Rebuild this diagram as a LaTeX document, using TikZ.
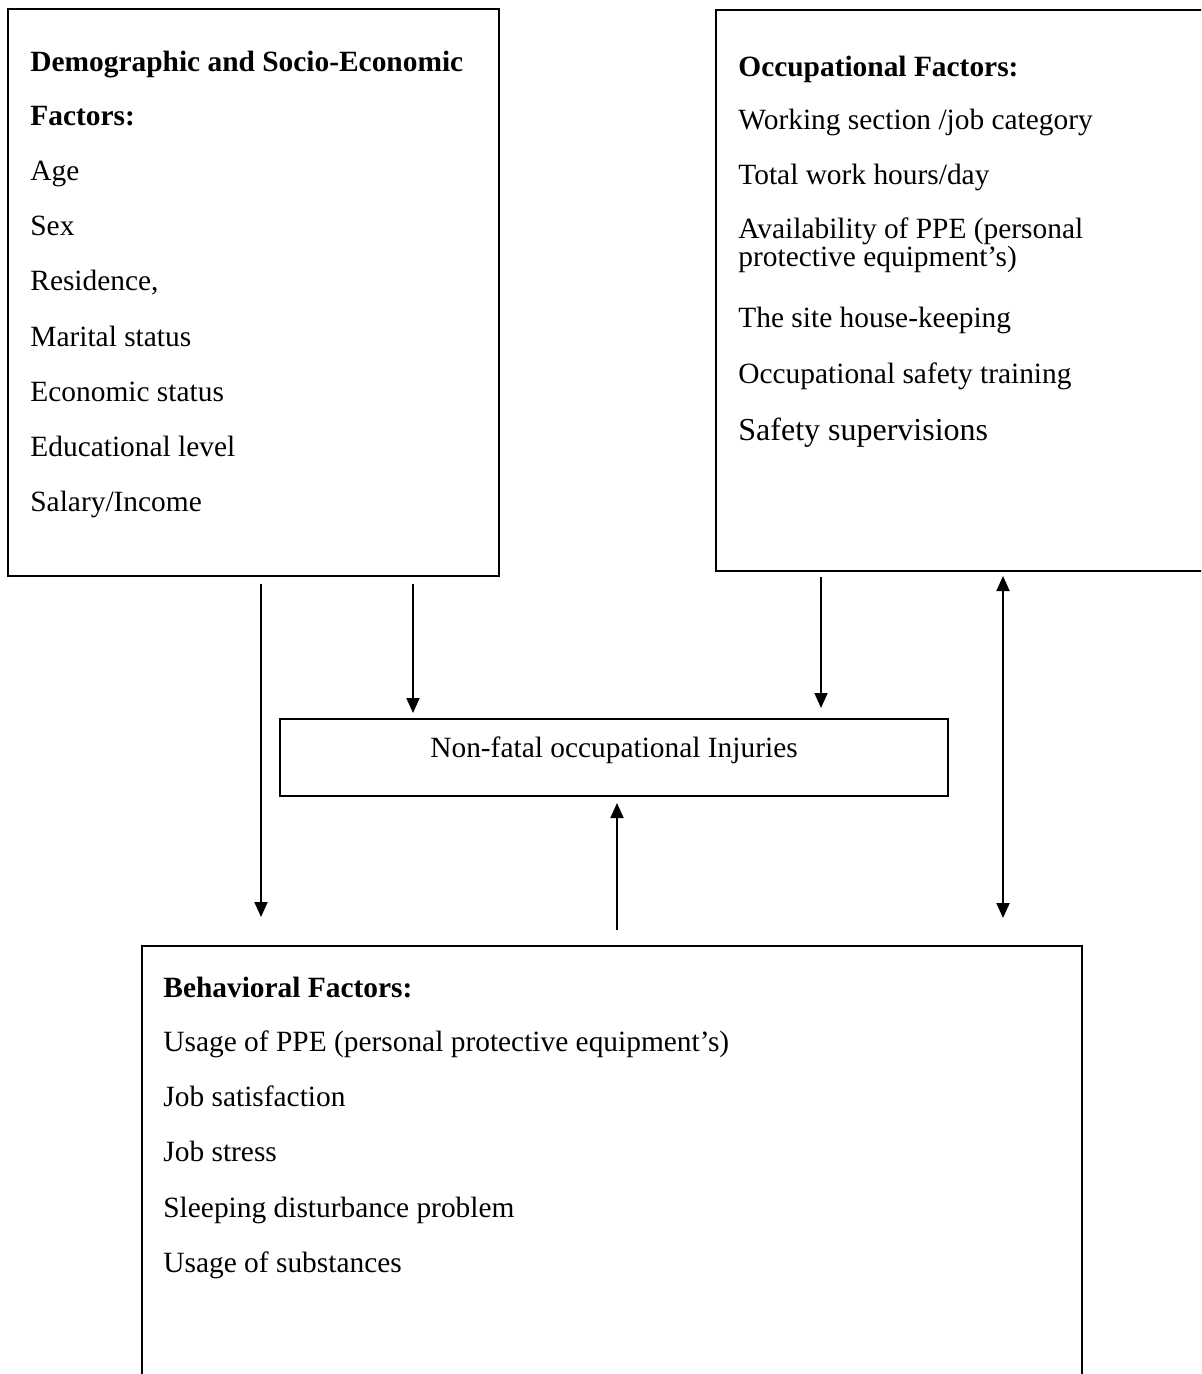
\documentclass[tikz,border=0pt]{standalone}
\usepackage{fontspec}
\setmainfont{Liberation Serif}
\usetikzlibrary{calc,arrows.meta}
\tikzset{
  box/.style={draw, line width=1pt, inner sep=0pt, outer sep=0pt, anchor=north west},
  txt/.style={inner sep=0pt, anchor=base west, font=\fontsize{14.7pt}{17pt}\selectfont},
  arr/.style={line width=0.9pt, -{Triangle[length=7.5pt,width=6.5pt]}},
  darr/.style={line width=0.9pt, {Triangle[length=7.5pt,width=6.5pt]}-{Triangle[length=7.5pt,width=6.5pt]}}
}
\begin{document}
\begin{tikzpicture}[x=0.5pt,y=-0.5pt]
\path[use as bounding box, clip] (0,0) rectangle (1201,1374);
\fill[white] (0,0) rectangle (1201,1374);
% boxes
\node[box, minimum width=245.5pt, minimum height=283.5pt] (demo) at (8,9) {};
\node[box, minimum width=250pt, minimum height=280.5pt] (occ) at (716,10) {};
\node[box, minimum width=334pt, minimum height=38.5pt] (inj) at (280,719) {};
\node[box, minimum width=470pt, minimum height=230pt] (beh) at (142,946) {};
% demographic text
\node[txt] (d1) at (30,72) {\textbf{Demographic and Socio-Economic}};
\node[txt] (d2) at (30,126) {\textbf{Factors:}};
\node[txt] (d3) at (30,181) {Age};
\node[txt] (d4) at (30,236) {Sex};
\node[txt] (d5) at (30,291) {Residence,};
\node[txt] (d6) at (30,346) {Marital status};
\node[txt] (d7) at (30,401) {Economic status};
\node[txt] (d8) at (30,456) {Educational level};
\node[txt] (d9) at (30,511) {Salary/Income};
% occupational text
\node[txt] (o1) at (738,77) {\textbf{Occupational Factors:}};
\node[txt] (o2) at (738,130) {Working section /job category};
\node[txt] (o3) at (738,185) {Total work hours/day};
\node[txt] (o4) at (738,239) {Availability of PPE (personal};
\node[txt] (o5) at (738,267) {protective equipment’s)};
\node[txt] (o6) at (738,328) {The site house-keeping};
\node[txt] (o7) at (738,383) {Occupational safety training};
\node[txt, font=\fontsize{16pt}{18pt}\selectfont] (o8) at (738,440) {Safety supervisions};
% injuries text
\node[inner sep=0pt, anchor=base, font=\fontsize{14.7pt}{17pt}\selectfont] (i1) at (614,757) {Non-fatal occupational Injuries};
% behavioral text
\node[txt] (b1) at (163,997) {\textbf{Behavioral Factors:}};
\node[txt] (b2) at (163,1051) {Usage of PPE (personal protective equipment’s)};
\node[txt] (b3) at (163,1106) {Job satisfaction};
\node[txt] (b4) at (163,1161) {Job stress};
\node[txt] (b5) at (163,1217) {Sleeping disturbance problem};
\node[txt] (b6) at (163,1272) {Usage of substances};
% arrows
\draw[arr] ($(demo.south west)+(253,8)$) -- ($(beh.north west)+(119,-29)$);
\draw[arr] ($(demo.south west)+(405,8)$) -- ($(inj.north west)+(133,-6)$);
\draw[arr] ($(occ.south west)+(105,6)$) -- ($(inj.north west)+(541,-11)$);
\draw[darr] ($(occ.south west)+(287,5)$) -- ($(beh.north west)+(861,-28)$);
\draw[arr] ($(beh.north west)+(475,-16)$) -- ($(inj.south west)+(337,7)$);
\end{tikzpicture}
\end{document}
